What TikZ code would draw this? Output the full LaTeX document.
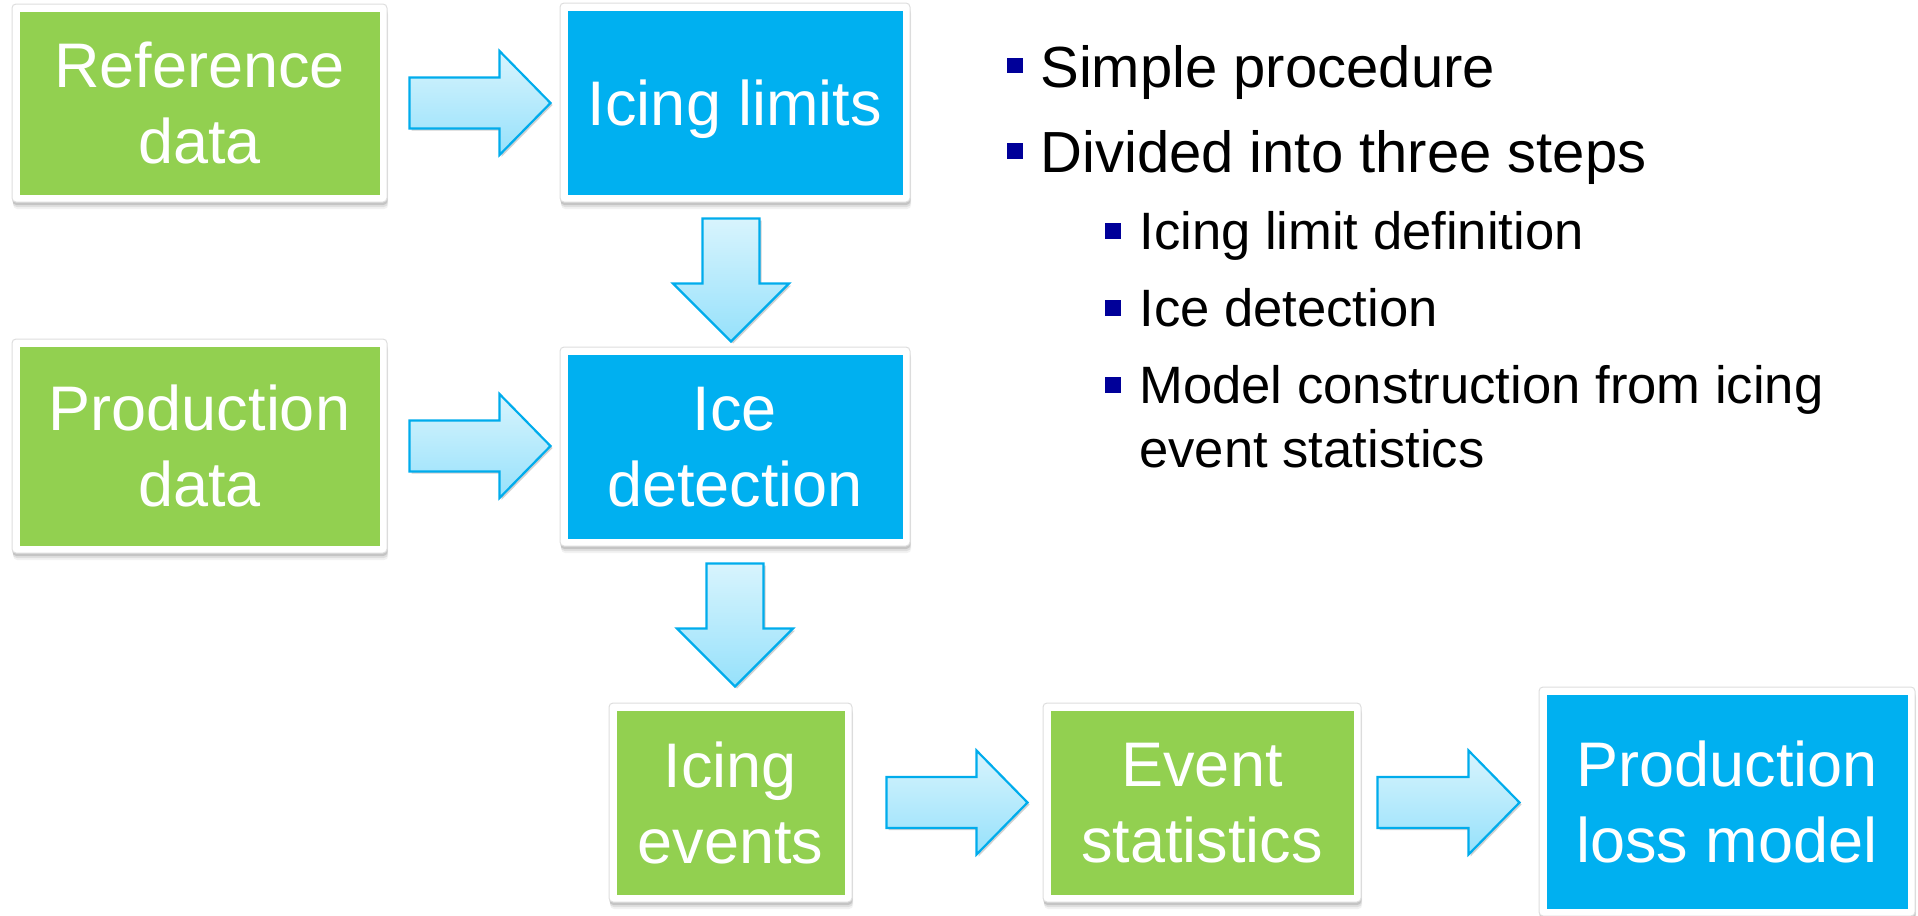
\documentclass[tikz,border=0pt]{standalone}
\usepackage{fontspec}
\setmainfont{Liberation Sans}
\usetikzlibrary{calc,shadows}

\definecolor{boxgreen}{RGB}{146,208,80}
\definecolor{boxblue}{RGB}{0,176,240}
\definecolor{arrowedge}{RGB}{0,172,236}
\definecolor{arrowtop}{RGB}{216,244,253}
\definecolor{arrowbot}{RGB}{150,225,251}
\definecolor{bulletnavy}{RGB}{0,0,153}
\definecolor{frameedge}{RGB}{222,222,222}

\tikzset{
  frameshadow/.style={
    general shadow={fill=black, opacity=.05, shadow yshift=-3.5pt, shadow xshift=.6pt},
    general shadow={fill=black, opacity=.08, shadow yshift=-2.5pt, shadow xshift=.4pt},
    general shadow={fill=black, opacity=.12, shadow yshift=-1.5pt, shadow xshift=.2pt}},
  procbox/.style={draw=frameedge, line width=.5pt, fill=white, rounded corners=2pt,
    inner sep=0pt, text=white, align=center, text depth=0pt,
    font=\fontsize{31.5}{38}\selectfont, frameshadow,
    path picture={\fill[#1, sharp corners]
      ([shift={(7.5,7.5)}]path picture bounding box.north west) rectangle
      ([shift={(-7.5,-7.5)}]path picture bounding box.south east);}},
  blockarrow/.style={draw=arrowedge, line width=1.1pt, line join=miter,
    top color=arrowtop, bottom color=arrowbot,
    general shadow={fill=black, opacity=.18, shadow xshift=1pt, shadow yshift=-1pt}},
  bulletsq/.style={fill=bulletnavy, inner sep=0pt, minimum size=7.7pt},
  mainitem/.style={anchor=base west, inner sep=0pt, font=\fontsize{29}{35}\selectfont},
  subitem/.style={anchor=base west, inner sep=0pt, font=\fontsize{26.3}{32}\selectfont},
}

% block arrow pointing right: shaft start -> tip
\newcommand{\rightblock}[2]{%
  \draw[blockarrow] ($(#1)+(0,-25.5)$) -- ($(#2)+(-51,-25.5)$) -- ($(#2)+(-51,-52)$)
    -- (#2) -- ($(#2)+(-51,52)$) -- ($(#2)+(-51,25.5)$) -- ($(#1)+(0,25.5)$) -- cycle;}
% block arrow pointing down: shaft start -> tip
\newcommand{\downblock}[2]{%
  \draw[blockarrow] ($(#1)+(-28.5,0)$) -- ($(#2)+(-28.5,-58)$) -- ($(#2)+(-58,-58)$)
    -- (#2) -- ($(#2)+(58,-58)$) -- ($(#2)+(28.5,-58)$) -- ($(#1)+(28.5,0)$) -- cycle;}

\begin{document}
\begin{tikzpicture}[x=0.5pt,y=-0.5pt]
\useasboundingbox (0,0) rectangle (1918,916);

% process boxes
\node[procbox=boxgreen, minimum width=187.5pt, minimum height=99pt]   (ref)  at (199.5,103)   {Reference\\data};
\node[procbox=boxblue,  minimum width=175pt,   minimum height=99.5pt] (ilim) at (735,102.5)   {Icing limits};
\node[procbox=boxgreen, minimum width=187.5pt, minimum height=107pt]  (prod) at (199.5,446)   {Production\\data};
\node[procbox=boxblue,  minimum width=175pt,   minimum height=99.5pt] (ice)  at (735,446.5)   {Ice\\detection};
\node[procbox=boxgreen, minimum width=121.5pt, minimum height=99.5pt] (iev)  at (730.5,802.5) {Icing\\events};
\node[procbox=boxgreen, minimum width=159pt,   minimum height=99.5pt] (est)  at (1202,802.5)  {Event\\statistics};
\node[procbox=boxblue,  minimum width=188pt,   minimum height=114.5pt] (plm) at (1727,801.5)  {Production\\loss model};

% arrow end points
\coordinate (a1s) at ($(ref.east)+(22,0)$);
\coordinate (a1t) at ($(ilim.west |- a1s)+(-9,0)$);
\coordinate (a2s) at ($(prod.east)+(22,0)$);
\coordinate (a2t) at ($(ice.west |- a2s)+(-9,0)$);
\coordinate (d1s) at ($(ilim.south)+(-4,16)$);
\coordinate (d1t) at ($(d1s |- ice.north)+(0,-5)$);
\coordinate (d2s) at ($(ice.south)+(0,17)$);
\coordinate (d2t) at ($(d2s |- iev.north)+(0,-16)$);
\coordinate (a3s) at ($(iev.east)+(34,0)$);
\coordinate (a3t) at ($(est.west |- a3s)+(-15,0)$);
\coordinate (a4s) at ($(est.east)+(16,0)$);
\coordinate (a4t) at ($(plm.west |- a4s)+(-19,0)$);

% block arrows
\rightblock{a1s}{a1t}
\rightblock{a2s}{a2t}
\downblock{d1s}{d1t}
\downblock{d2s}{d2t}
\rightblock{a3s}{a3t}
\rightblock{a4s}{a4t}

% bullet list
\node[bulletsq] (b1) at (1015,65.5) {};
\node[mainitem] (t1) at (1040,87) {Simple procedure};
\node[bulletsq] (b2) at (1015,151) {};
\node[mainitem] (t2) at (1040,172) {Divided into three steps};
\node[bulletsq] (sb1) at (1113,231) {};
\node[subitem] (s1) at (1139,249) {Icing limit definition};
\node[bulletsq] (sb2) at (1113,308) {};
\node[subitem] (s2) at (1139,326) {Ice detection};
\node[bulletsq] (sb3) at (1113,385) {};
\node[subitem] (s3) at (1139,403) {Model construction from icing};
\node[subitem] (s3b) at (1139,467) {event statistics};
\end{tikzpicture}
\end{document}
